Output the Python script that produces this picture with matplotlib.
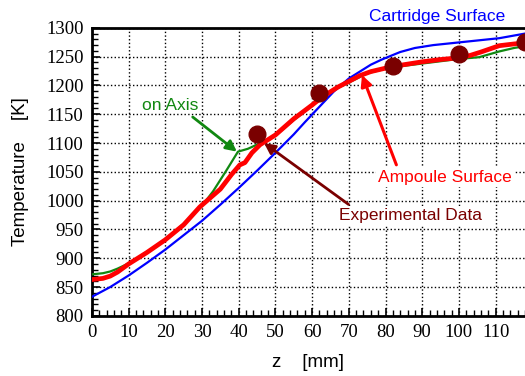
import numpy as np
import matplotlib.pyplot as plt
from matplotlib.ticker import MultipleLocator

# z [mm] and temperature [K]
z_cart = [0, 5, 10, 15, 20, 25, 30, 35, 40, 45, 50, 55, 58, 62, 66, 70, 73, 76, 79, 84, 88, 93, 102, 111, 118]
T_cart = [833, 850, 870, 892, 915, 940, 965, 993, 1022, 1052, 1083, 1115, 1136, 1163, 1190, 1212, 1224, 1236, 1245, 1258, 1265, 1270, 1276, 1282, 1290]

z_amp = [0, 3, 5, 7, 10, 15, 20, 25, 29.4, 35, 38, 40.3, 41.7, 43.6, 45.8, 50, 55, 60, 63, 67, 70, 73, 76, 80, 85, 90, 95, 100, 103, 106, 111, 115, 118]
T_amp = [863, 865, 869, 876, 890, 910, 932, 958, 989, 1020, 1045, 1062, 1066, 1083, 1097, 1114, 1142, 1166, 1181, 1197, 1207, 1217, 1224, 1230, 1236, 1241, 1245, 1248, 1252, 1258, 1269, 1272, 1274]

z_axis = [0, 3, 5, 7, 10, 15, 20, 25, 30, 33, 36.7, 39.8, 42.5, 46.6, 50, 55, 60, 65, 70, 75, 80, 85, 90, 95, 100, 105.5, 111, 115, 118]
T_axis = [872, 874, 877, 882, 891, 910, 932, 960, 991, 1016, 1053, 1085, 1090, 1102, 1113, 1140, 1165, 1190, 1205, 1221, 1229, 1234, 1238, 1242, 1246, 1249, 1259, 1265, 1268]

z_exp = [45, 62, 82, 100, 118]
T_exp = [1115, 1186, 1233, 1254, 1276]

plt.rcParams['font.family'] = ['Liberation Sans', 'DejaVu Sans']

fig = plt.figure(figsize=(5.25, 3.76), dpi=100)
ax = fig.add_axes([0.175, 0.16, 0.825, 0.766])

ax.plot(z_cart, T_cart, color='#0000ff', lw=1.6, zorder=3)
ax.plot(z_axis, T_axis, color='#118811', lw=1.6, zorder=4)
ax.plot(z_amp, T_amp, color='#ff0000', lw=3.4, zorder=5, solid_joinstyle='round')
ax.plot(z_exp, T_exp, 'o', color='#7a0000', ms=12, zorder=6, clip_on=False)

ax.set_xlim(0, 118)
ax.set_ylim(800, 1300)
ax.xaxis.set_major_locator(MultipleLocator(10))
ax.xaxis.set_minor_locator(MultipleLocator(2))
ax.yaxis.set_major_locator(MultipleLocator(50))
ax.yaxis.set_minor_locator(MultipleLocator(10))
ax.tick_params(which='both', direction='in', top=False, right=False)
ax.tick_params(which='major', length=6, width=1.2, pad=6)
ax.tick_params(which='minor', length=4, width=1.0)
for lab in ax.get_xticklabels() + ax.get_yticklabels():
    lab.set_fontfamily('Liberation Serif')
    lab.set_fontsize(13.5)
ax.grid(True, which='major', color='black', ls=':', lw=1.0)
for s in ['left', 'bottom', 'top']:
    ax.spines[s].set_linewidth(2)
ax.spines['right'].set_visible(False)

ax.set_xlabel('z    [mm]', fontsize=13.5, labelpad=9)
ax.set_ylabel('Temperature    [K]', fontsize=13.5, labelpad=12)

wb = dict(facecolor='white', edgecolor='none', pad=1.5)
ax.text(94, 1319, 'Cartridge Surface', color='#0000ff', fontsize=12.5,
        ha='center', va='center', bbox=wb, clip_on=False, zorder=10)
ax.annotate('on Axis', xy=(39.5, 1085), xytext=(21.3, 1166), color='#118811',
            fontsize=12.5, ha='center', va='center', zorder=10,
            arrowprops=dict(arrowstyle='-|>', color='#118811', lw=2, relpos=(0.8, 0),
                            shrinkA=2, shrinkB=0, mutation_scale=16))
ax.annotate('Ampoule Surface', xy=(73.6, 1218), xytext=(96.2, 1041), color='#ff0000',
            fontsize=12.5, ha='center', va='center', bbox=wb, zorder=10,
            arrowprops=dict(arrowstyle='-|>', color='#ff0000', lw=2.2, relpos=(0.15, 1),
                            shrinkA=2, shrinkB=0, mutation_scale=16))
ax.annotate('Experimental Data', xy=(46.9, 1100), xytext=(86.9, 974), color='#7a0000',
            fontsize=12.5, ha='center', va='center', bbox=wb, zorder=10,
            arrowprops=dict(arrowstyle='-|>', color='#7a0000', lw=2, relpos=(0.1, 1),
                            shrinkA=2, shrinkB=0, mutation_scale=16))

fig.savefig('out.png', dpi=100)
